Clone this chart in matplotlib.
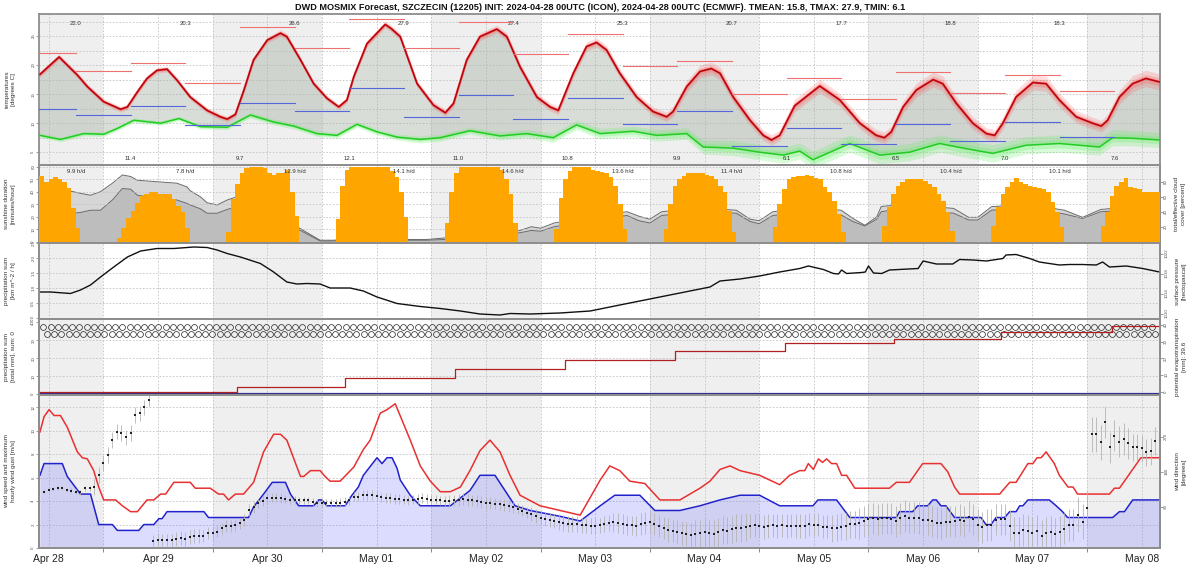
import numpy as np
import matplotlib
matplotlib.use('Agg')
import matplotlib.pyplot as plt

plt.rcParams['font.family'] = ['Liberation Sans', 'DejaVu Sans']

TITLE = ('DWD MOSMIX Forecast, SZCZECIN (12205) INIT: 2024-04-28 00UTC (ICON), '
         '2024-04-28 00UTC (ECMWF). TMEAN: 15.8, TMAX: 27.9, TMIN: 6.1')

# time axis = hours since 2024-04-28 00 UTC
day_labels = ['Apr 28', 'Apr 29', 'Apr 30', 'May 01', 'May 02', 'May 03',
              'May 04', 'May 05', 'May 06', 'May 07', 'May 08']

# ---- temperature panel
red_h = [10.1, 14.3, 18.3, 20.5, 24.1, 27.8, 29.3, 31.5, 33.6, 35.8,
         38.0, 40.2, 43.1, 46.8, 49.7, 51.2, 53.0, 54.8, 57.0, 60.0,
         62.9, 64.3, 67.3, 70.2, 73.1, 75.7, 77.5, 79.0, 81.9, 85.9,
         87.2, 89.2, 92.9, 96.5, 99.1, 100.9, 103.8, 106.7, 110.4, 112.6,
         115.5, 119.2, 122.1, 123.9, 127.2, 130.1, 132.3, 134.5, 137.4, 141.1,
         144.7, 147.7, 149.1, 152.1, 155.0, 157.5, 159.4, 162.3, 166.0, 168.9,
         170.7, 172.5, 175.8, 181.3, 185.7, 190.1, 193.7, 195.5, 197.0, 199.6,
         202.5, 206.2, 208.3, 211.3, 214.9, 217.9, 219.7, 221.5, 224.4, 228.1,
         231.0, 233.9, 237.6, 241.2, 243.1, 244.5, 247.1, 250.0, 252.9, 255.9]
red_t = [18.4, 21.4, 18.3, 16.3, 13.7, 12.4, 12.8, 15.4, 17.7, 19.1,
         19.3, 17.4, 14.5, 12.2, 11.1, 10.7, 11.5, 15.5, 20.9, 24.3,
         25.5, 24.9, 20.9, 16.8, 14.3, 12.8, 14.0, 18.0, 23.7, 27.0,
         26.3, 24.9, 16.8, 13.1, 11.8, 13.4, 20.9, 24.9, 26.2, 24.9,
         19.7, 14.5, 12.8, 12.2, 18.6, 23.2, 23.9, 22.6, 18.6, 14.5,
         12.0, 11.1, 12.0, 16.3, 18.9, 19.4, 18.6, 14.5, 10.5, 7.9,
         7.1, 7.9, 13.0, 16.4, 14.0, 10.0, 7.9, 7.5, 8.5, 12.8,
         15.7, 17.5, 16.8, 13.4, 10.0, 8.2, 7.9, 10.0, 14.5, 17.0,
         16.8, 14.0, 11.1, 10.0, 9.5, 10.5, 14.5, 16.8, 17.7, 17.1]
red_spread = [0.5, 0.5, 0.5, 0.5, 0.5, 0.5, 0.5, 0.5, 0.5, 0.5,
              0.5, 0.5, 0.5, 0.5, 0.5, 0.5, 0.5, 0.5, 0.5, 0.5,
              0.6, 0.6, 0.5, 0.5, 0.5, 0.5, 0.5, 0.5, 0.6, 0.6,
              0.6, 0.6, 0.6, 0.6, 0.6, 0.6, 0.6, 0.7, 0.7, 0.7,
              0.7, 0.7, 0.7, 0.7, 0.8, 0.8, 0.8, 0.8, 0.8, 0.8,
              0.8, 0.8, 0.9, 1.0, 1.1, 1.1, 1.1, 1.0, 0.9, 0.9,
              0.9, 0.9, 1.1, 1.2, 1.1, 1.0, 1.0, 1.0, 1.0, 1.1,
              1.2, 1.3, 1.3, 1.2, 1.1, 1.0, 1.0, 1.1, 1.2, 1.3,
              1.3, 1.2, 1.1, 1.0, 1.0, 1.1, 1.2, 1.4, 1.4, 1.4]

green_h = [10.1, 14.6, 19.7, 24.1, 27.1, 30.7, 36.6, 40.6, 45.3, 51.2,
           56.3, 61.4, 65.8, 70.9, 75.3, 79.7, 84.1, 88.5, 93.6, 98.0,
           104.5, 111.1, 116.9, 122.8, 127.9, 133.1, 140.4, 145.5, 152.1, 155.7,
           162.3, 168.1, 173.3, 176.9, 179.8, 187.9, 194.5, 201.0, 207.6, 213.5,
           219.3, 226.6, 233.9, 242.7, 245.6, 250.0, 255.9]
green_t = [7.9, 7.2, 8.2, 8.1, 9.1, 10.5, 10.0, 10.8, 9.4, 9.3,
           11.4, 10.2, 9.5, 8.2, 7.9, 9.8, 8.5, 7.6, 7.2, 7.5,
           8.7, 7.8, 8.2, 7.5, 9.7, 8.2, 8.6, 7.9, 8.2, 5.9,
           5.7, 5.0, 4.5, 5.2, 3.7, 6.5, 4.5, 5.0, 6.5, 5.6,
           4.8, 6.2, 6.5, 5.9, 7.5, 7.4, 7.1]
green_spread = [0.4, 0.4, 0.4, 0.4, 0.4, 0.4, 0.4, 0.4, 0.4, 0.4,
                0.5, 0.5, 0.5, 0.5, 0.5, 0.5, 0.5, 0.5, 0.6, 0.6,
                0.6, 0.7, 0.7, 0.8, 0.8, 0.9, 0.9, 1.0, 1.0, 1.2,
                1.3, 1.3, 1.4, 1.4, 1.5, 1.5, 1.5, 1.5, 1.5, 1.5,
                1.5, 1.5, 1.5, 1.4, 1.4, 1.3, 1.3]

# 12-hour max / min segments, windows start at 06 UTC and 18 UTC
seg_start = [6, 18, 30, 42, 54, 66, 78, 90, 102, 114,
             126, 138, 150, 162, 174, 186, 198, 210, 222, 234]
seg_max = [22.0, 18.9, 20.3, 17.0, 26.6, 22.9, 27.9, 22.9, 27.4, 21.9,
           25.3, 19.8, 20.7, 15.1, 17.7, 14.1, 18.8, 15.2, 18.3, 15.6]
seg_min = [12.4, 11.4, 12.9, 9.7, 13.5, 12.1, 16.0, 11.0, 14.9, 10.8,
           14.3, 9.9, 12.1, 6.1, 9.1, 6.5, 9.8, 7.0, 10.2, 7.6]
tmax_day = [22.0, 20.3, 26.6, 27.9, 27.4, 25.3, 20.7, 17.7, 18.8, 18.3]
tmin_day = [11.4, 9.7, 12.1, 11.0, 10.8, 9.9, 6.1, 6.5, 7.0, 7.6]

# ---- sunshine / cloud panel
sun_first_hour = [10, 27, 51, 75, 99, 123, 147, 171, 195, 219, 243]
sun_minutes = [
    [53, 48, 50, 52, 50, 48, 43, 27, 11],
    [3, 11, 19, 25, 31, 37, 38, 40, 40, 38, 38, 38, 34, 29, 24, 11],
    [8, 34, 46, 55, 59, 60, 60, 60, 59, 55, 54, 55, 55, 58, 40, 21],
    [18, 45, 58, 60, 60, 60, 60, 60, 60, 60, 60, 60, 57, 52, 40, 20],
    [15, 40, 55, 60, 60, 60, 60, 60, 60, 60, 60, 60, 58, 50, 38, 15],
    [10, 35, 50, 57, 60, 60, 60, 60, 58, 57, 56, 55, 52, 45, 30, 10],
    [10, 30, 45, 50, 53, 55, 55, 55, 55, 54, 53, 50, 45, 40, 25, 8],
    [12, 30, 42, 50, 52, 53, 53, 54, 53, 51, 50, 44, 40, 33, 22, 8],
    [13, 28, 38, 45, 48, 50, 50, 50, 50, 49, 46, 44, 38, 33, 24, 9],
    [13, 28, 38, 44, 48, 51, 48, 46, 45, 44, 43, 42, 40, 32, 24, 12],
    [13, 24, 37, 45, 48, 51, 44, 43, 42, 40, 40, 40, 40],
]
sun_day = ['9.9', '7.8', '12.9', '14.1', '14.6', '13.6', '11.4', '10.8', '10.4', '10.1']

cloud_h = [10, 17.2, 19.0, 21.2, 23.4, 26.0, 28.2, 30.0, 31.5, 33.6,
           35.8, 38.0, 40.2, 42.4, 43.1, 45.3, 46.8, 49.0, 51.2, 53.4,
           60, 67.1, 71.6, 74.6, 80, 91, 95, 99, 110, 115.5,
           118, 120, 123, 133, 139, 141.6, 144, 146.6, 155, 163,
           166, 168, 171, 180, 186, 188.6, 191.2, 193.8, 194.8, 200,
           210.7, 214, 216, 219, 227, 235, 239, 243, 256]
cloud_total = [60, 67, 64.5, 62, 66.7, 78, 89, 87, 82, 81,
               80, 79, 78, 73, 68, 60, 52, 49, 55.6, 60,
               40, 18, 2, 2, 5, 3, 3, 5, 10, 15,
               20, 18, 25, 35, 40, 34, 30, 40, 45, 42,
               30, 28, 40, 45, 42, 31, 22, 33, 47, 50,
               44.4, 32.5, 32.5, 46.7, 50, 42, 32.5, 43, 50]
cloud_eff = [35, 38, 39, 42, 42, 55.6, 71, 70, 62, 60,
             58, 57, 55.6, 51, 49, 44, 38, 38, 43, 46.7,
             30, 15.6, 1, 1, 3, 2, 2, 3, 8, 12,
             15, 14, 20, 30, 35, 28, 25, 35, 40, 38,
             27, 24, 35, 40, 35.6, 27, 21, 30, 40, 45,
             38, 29, 29, 42, 45, 37, 31, 40, 45]

# ---- pressure panel
pres_h = [10.1, 12.4, 16.8, 19.0, 21.2, 23.4, 26.3, 29.3, 32.2, 35.8,
          39.5, 43.9, 46.8, 49.0, 51.2, 54.1, 58.5, 61.4, 64.3, 66.5,
          68.7, 71.6, 73.8, 78.2, 81.1, 84.1, 88.5, 93.6, 98.0, 102.4,
          106.7, 111.1, 113.3, 117.7, 124.3, 130.9, 137.4, 144.0, 150.6, 157.2,
          159.4, 163.8, 168.1, 172.5, 176.9, 178.8, 182.1, 184.3, 185.4, 186.1,
          187.2, 190.5, 191.3, 192.0, 193.1, 194.9, 196.6, 202.9, 204.0, 206.9,
          210.5, 212.0, 214.9, 217.9, 221.5, 222.2, 224.4, 227.4, 229.5, 233.9,
          236.1, 239.0, 242.0, 243.4, 244.9, 248.6, 252.2, 255.9]
pres_hpa = [1014.3, 1014.3, 1014.0, 1014.7, 1015.7, 1017.3, 1019.3, 1021.3, 1022.5, 1023.0,
            1023.0, 1023.3, 1023.2, 1022.7, 1022.0, 1021.3, 1020.0, 1018.3, 1016.3, 1015.9,
            1016.0, 1015.9, 1015.1, 1015.1, 1014.5, 1013.3, 1012.0, 1011.4, 1011.0, 1010.5,
            1009.9, 1009.7, 1010.0, 1009.9, 1010.1, 1010.5, 1011.7, 1012.9, 1014.1, 1015.3,
            1016.5, 1016.9, 1017.5, 1018.3, 1019.0, 1019.5, 1018.8, 1018.0, 1017.9, 1018.7,
            1018.0, 1018.2, 1018.3, 1019.5, 1018.1, 1018.0, 1018.7, 1019.0, 1020.5, 1019.9,
            1019.9, 1020.8, 1020.7, 1020.5, 1021.0, 1021.7, 1021.8, 1021.0, 1020.3, 1019.7,
            1019.8, 1019.8, 1019.7, 1020.3, 1019.3, 1019.5, 1019.0, 1018.3]

# ---- precipitation / evapotranspiration panel
precip_h = [10, 256]
precip_sum = [0.0, 0.0]
et_h = [10, 53.4, 77.1, 101.3, 125.4, 149.5, 173.6, 197.7, 221.2, 245.5, 256]
et_cum = [0.0, 2.8, 8.2, 13.6, 19.0, 24.4, 29.2, 31.6, 35.7, 39.6, 39.6]

# ---- wind panel
gust_h = [10.1, 11.0, 12.1, 13.2, 14.6, 16.1, 18.3, 19.4, 20.5, 21.9,
          23.0, 24.1, 26.7, 28.2, 30.0, 31.5, 33.6, 35.1, 36.6, 37.7,
          39.5, 43.1, 44.2, 47.5, 49.3, 50.4, 51.5, 53.0, 54.8, 57.0,
          59.2, 61.4, 62.9, 64.3, 67.3, 68.0, 69.5, 71.6, 72.7, 73.8,
          76.0, 79.0, 81.1, 82.6, 84.8, 86.3, 88.1, 91.4, 93.6, 95.8,
          98.0, 100.2, 102.4, 104.5, 106.7, 108.9, 111.1, 113.3, 115.5, 119.9,
          124.3, 128.7, 133.1, 135.2, 137.4, 139.6, 142.9, 146.2, 150.6, 155.0,
          157.2, 159.4, 161.6, 163.8, 168.1, 172.5, 174.7, 176.9, 178.0, 178.8,
          179.9, 181.0, 181.9, 182.8, 183.9, 185.0, 186.1, 187.2, 189.0, 196.6,
          198.1, 201.0, 203.9, 207.9, 209.4, 210.9, 212.0, 220.8, 223.0, 224.4,
          227.0, 228.1, 229.0, 229.9, 231.0, 232.8, 233.9, 235.8, 236.9, 237.9,
          244.9, 246.0, 247.1, 251.8, 255.9]
gust_ms = [9.9, 11.2, 11.8, 11.3, 11.3, 10.3, 8.2, 7.7, 7.6, 6.6,
           5.2, 4.1, 4.1, 3.6, 3.1, 3.1, 4.1, 4.1, 4.6, 4.6,
           5.6, 5.6, 5.1, 5.1, 4.6, 4.6, 4.1, 4.6, 4.6, 5.6,
           8.2, 9.7, 9.7, 9.2, 6.1, 6.1, 6.6, 6.6, 6.1, 5.7,
           5.7, 6.9, 8.4, 9.2, 11.5, 11.8, 12.3, 9.2, 7.0, 5.7,
           4.8, 4.8, 5.2, 6.6, 8.3, 9.2, 8.2, 6.2, 4.5, 3.6,
           3.2, 2.8, 5.8, 7.0, 6.6, 5.7, 5.5, 4.1, 4.1, 5.1,
           5.7, 6.7, 7.0, 6.6, 6.2, 5.4, 6.2, 6.6, 6.6, 7.2,
           6.7, 7.6, 7.3, 7.6, 7.2, 7.2, 6.2, 6.2, 5.1, 5.1,
           5.6, 5.6, 7.2, 7.2, 6.5, 5.2, 4.6, 4.6, 5.6, 5.6,
           7.2, 7.2, 7.7, 7.7, 8.2, 7.2, 6.2, 5.2, 5.2, 4.6,
           4.6, 5.1, 5.1, 7.7, 7.7]

speed_h = [10.1, 11.0, 15.0, 16.1, 19.0, 21.2, 23.0, 26.0, 27.1, 31.8,
           32.9, 35.1, 36.2, 36.9, 38.0, 46.1, 47.1, 55.9, 57.0, 59.2,
           61.1, 64.0, 65.1, 66.9, 70.2, 71.3, 72.0, 73.1, 77.1, 78.6,
           80.0, 81.1, 84.1, 85.2, 86.3, 87.4, 88.5, 89.2, 91.4, 93.6,
           100.2, 104.5, 106.7, 110.0, 112.2, 114.4, 117.7, 124.3, 128.7, 133.1,
           136.3, 141.8, 145.1, 150.6, 155.0, 159.4, 163.8, 168.1, 172.5, 176.9,
           179.8, 180.9, 185.0, 187.9, 198.1, 198.8, 201.7, 202.8, 205.0, 206.1,
           206.9, 207.9, 209.0, 210.9, 216.7, 217.8, 218.9, 220.0, 221.9, 223.0,
           224.4, 225.2, 225.9, 227.0, 231.7, 233.2, 234.6, 235.7, 245.6, 247.1,
           248.2, 250.0, 255.9]
speed_ms = [6.2, 7.2, 7.2, 6.1, 4.6, 4.6, 2.0, 2.0, 1.5, 1.5,
            2.0, 2.0, 2.5, 2.5, 3.1, 3.1, 2.6, 2.6, 3.5, 4.6,
            5.6, 5.6, 4.6, 3.6, 3.6, 4.1, 4.1, 3.6, 3.6, 4.5,
            5.2, 6.2, 7.7, 7.2, 7.7, 7.7, 6.8, 5.8, 4.5, 3.6,
            3.6, 4.9, 6.2, 6.2, 4.9, 3.6, 3.2, 2.7, 2.3, 3.6,
            4.5, 4.5, 3.2, 3.2, 3.6, 4.1, 4.5, 4.5, 3.6, 3.6,
            3.6, 4.1, 4.1, 2.6, 2.6, 3.1, 3.1, 3.6, 3.6, 4.1,
            4.1, 3.6, 3.6, 2.6, 2.6, 2.0, 2.0, 2.6, 2.6, 3.1,
            3.1, 3.6, 3.6, 4.1, 4.1, 3.6, 3.1, 2.6, 2.6, 3.1,
            3.1, 4.1, 4.1]

# hourly wind direction from hour 10 on (values above 360 are drawn past the top)
dir_apr28 = [122, 129, 133, 135, 137, 137, 133, 131, 129, 127, 137, 137, 141, 171,
             202, 223, 262, 283, 279, 268, 280, 326, 330, 345, 364]
dir_apr29_30 = [2, 4, 4, 4, 4, 6, 10, 8, 13, 14, 14, 14, 22, 23, 26, 34, 41, 41, 42, 47,
                56, 81, 90, 99, 105, 112, 113, 113, 112, 109, 108, 108, 106, 106, 106,
                103, 99, 99, 99, 99, 100, 100, 103, 106, 116, 116, 120, 120, 120, 118,
                114, 112, 112]
dir_may01_04 = [110, 110, 108, 106, 108, 110, 112, 110, 108, 108, 106, 105,
                105, 106, 108, 110, 108, 106, 104, 102, 100, 100, 98, 96, 95, 92, 88, 85,
                80, 75, 70, 65, 60, 58, 55, 52, 50, 48, 45, 45,
                45, 42, 42, 40, 40, 42, 45, 48, 50, 48, 45, 42,
                42, 40, 45, 48, 50, 45, 40, 35, 30, 28, 25, 22,
                20, 18, 20, 22, 25, 22, 20, 25, 30, 28, 32, 35,
                35, 38, 40, 42, 40, 38, 40, 42, 40, 42, 40, 41, 40]
dir_may05_08 = [40, 40, 45, 44, 44, 39, 39, 34, 36, 39, 40, 45, 45, 47, 53, 58, 60, 58,
                60, 60, 59, 53, 60, 66, 62, 62, 61, 56, 56, 53, 49, 47, 51, 51, 53, 56,
                53, 64, 58, 43, 37, 43, 43, 56, 58, 58, 41, 23, 23, 30, 28, 23, 28, 15,
                23, 26, 20, 26, 33, 43, 43, 69, 51, 86, 276, 276, 255, 307, 243, 272,
                257, 264, 253, 243, 243, 240, 230, 232, 259, 262]
# spread of the direction (+/- degrees), one value per 6 hours
dir_spread_6h = [5, 6, 20, 20, 15, 18, 15, 15, 12, 10, 10, 12, 12, 12, 12, 15, 15, 15,
                 18, 20, 20, 25, 28, 30, 35, 35, 30, 30, 30, 35, 40, 40, 40, 40, 40, 40,
                 40, 40, 45, 40, 35, 35]

FRAME = '#8e8e8e'
GRID = '#c2c2c2'
SHADE = '#efefef'
TXT = '#333333'

fig = plt.figure(figsize=(12, 5.71), dpi=100)
H = 571.0


def panel(top, bottom):
    return fig.add_axes([39.5 / 1200, 1 - bottom / H, (1160 - 39.5) / 1200, (bottom - top) / H])


def frame(ax):
    for s in ax.spines.values():
        s.set_color(FRAME)
        s.set_linewidth(1.3)


def background(ax, ylim, grid_y):
    ax.set_xlim(10, 256)
    ax.set_ylim(*ylim)
    for d in range(0, 11, 2):
        ax.axvspan(d * 24, d * 24 + 24, color=SHADE, lw=0, zorder=0)
    for h in range(12, 256, 12):
        ax.axvline(h, color=GRID, lw=0.6, ls=(0, (2, 2)), zorder=0.5)
    for y in grid_y:
        ax.axhline(y, color=GRID, lw=0.6, ls=(0, (2, 2)), zorder=0.5)
    ax.set_xticks([])
    frame(ax)


def yticks(ax, ticks, labels):
    ax.set_yticks(ticks)
    ax.set_yticklabels(labels, rotation=90, va='center', fontsize=3.2, color='#555555')
    ax.tick_params(axis='y', length=2, width=0.5, pad=1, color='#777777')


def side_label(x_px, top, bottom, text):
    fig.text(x_px / 1200, 1 - (top + bottom) / 2 / H, text, rotation=90, ha='center',
             va='center', fontsize=4.6, color=TXT, multialignment='center', linespacing=1.3)


# ---------------- temperatures
ax_t = panel(14, 165)
background(ax_t, (2.8, 28.8), np.arange(5, 28.8, 2.5))
yticks(ax_t, [5, 10, 15, 20, 25], ['5', '10', '15', '20', '25'])

ax_t.fill(np.concatenate([red_h, green_h[::-1]]), np.concatenate([red_t, green_t[::-1]]),
          color='#aab4aa', alpha=0.45, lw=0, zorder=1)
gh, gt, gs = np.array(green_h), np.array(green_t), np.array(green_spread)
ax_t.fill_between(gh, gt - gs, gt + gs, color='#55ee55', alpha=0.22, lw=0, zorder=2)
ax_t.fill_between(gh, gt - gs * 0.5, gt + gs * 0.5, color='#55ee55', alpha=0.25, lw=0, zorder=2)
ax_t.plot(gh, gt, color='#22cc22', lw=1.1, zorder=3)

rh, rt, rs = np.array(red_h), np.array(red_t), np.array(red_spread)
ax_t.fill_between(rh, rt - rs, rt + rs, color='#ff5050', alpha=0.2, lw=0, zorder=4)
ax_t.fill_between(rh, rt - rs * 0.5, rt + rs * 0.5, color='#ff5050', alpha=0.25, lw=0, zorder=4)
ax_t.plot(rh, rt, color='#e8202a', lw=1.5, zorder=5)
ax_t.plot(rh, rt, color='#8b0000', lw=0.5, zorder=5)

for s, vmax, vmin in zip(seg_start, seg_max, seg_min):
    ax_t.plot([s, s + 12], [vmax, vmax], color='#f07070', lw=0.8, zorder=6)
    ax_t.plot([s, s + 12], [vmin, vmin], color='#5566dd', lw=0.8, zorder=6)
for k, (vmax, vmin) in enumerate(zip(tmax_day, tmin_day)):
    ax_t.text(18 + 24 * k, 27.1, f'{vmax:.1f}', ha='center', va='center', fontsize=4.3, color=TXT)
    ax_t.text(30 + 24 * k, 4.0, f'{vmin:.1f}', ha='center', va='center', fontsize=4.3, color=TXT)
side_label(10, 14, 165, 'temperatures\n[degrees C]')

# ---------------- sunshine / cloud cover
ax_c = panel(165, 243)
background(ax_c, (-1.7, 102.3), [])
ax_s = ax_c.twinx()
ax_s.set_zorder(ax_c.get_zorder() + 1)
ax_s.patch.set_visible(False)
ax_s.set_ylim(-0.8, 61.6)
ax_s.set_xlim(10, 256)
for y in range(10, 61, 10):
    ax_s.axhline(y, color=GRID, lw=0.6, ls=(0, (2, 2)), zorder=0.5)
ax_c.fill_between(cloud_h, 0, cloud_total, color='#d6d6d6', lw=0, zorder=1)
ax_c.fill_between(cloud_h, 0, cloud_eff, color='#bdbdbd', lw=0, zorder=1)
ax_c.plot(cloud_h, cloud_total, color='#6a6a6a', lw=0.7, zorder=2)
ax_c.plot(cloud_h, cloud_eff, color='#6a6a6a', lw=0.7, zorder=2)
for first, mins in zip(sun_first_hour, sun_minutes):
    ax_s.bar(np.arange(first, first + len(mins)), mins, width=1.0, align='edge',
             color='#ffa500', lw=0, zorder=3)
for k, txt in enumerate(sun_day):
    ax_s.text(18 + 24 * k, 56.5, f'{txt} h/d', ha='center', va='center', fontsize=4.3,
              color=TXT, zorder=4)
# left axis = sunshine, right axis = cloud cover
ax_c.yaxis.tick_right()
yticks(ax_c, [20, 40, 60, 80], ['20', '40', '60', '80'])
ax_s.yaxis.tick_left()
yticks(ax_s, [0, 10, 20, 30, 40, 50, 60], ['0', '10', '20', '30', '40', '50', '60'])
ax_s.set_xticks([])
frame(ax_s)
side_label(10, 165, 243, 'sunshine duration\n[minutes/hour]')
side_label(1180, 165, 243, 'total/effective cloud\ncover [percent]')

# ---------------- pressure
ax_p = panel(243, 319)
background(ax_p, (-0.02, 2.51), [0.5, 1.0, 1.5, 2.0])
yticks(ax_p, [0, 0.5, 1.0, 1.5, 2.0, 2.5], ['0.0', '0.5', '1.0', '1.5', '2.0', '2.5'])
ax_p2 = ax_p.twinx()
ax_p2.set_ylim(1008.9, 1024.1)
ax_p2.plot(pres_h, pres_hpa, color='#111111', lw=1.0)
yticks(ax_p2, [1010, 1014, 1018, 1022], ['1010', '1014', '1018', '1022'])
frame(ax_p2)
side_label(10, 243, 319, 'precipitation sum\n[km m^-2 / h]')
side_label(1181, 243, 319, 'surface pressure\n[hectopascal]')

# ---------------- precipitation sum / evapotranspiration
ax_r = panel(319, 395)
background(ax_r, (-0.4, 41.9), [10, 20, 30])
yticks(ax_r, [0, 10, 20, 30, 40], ['0', '10', '20', '30', '40'])
sym_top = np.arange(10.84, 255.5, 1.58)
sym_bot = sym_top[sym_top + 0.79 < 255.5] + 0.79
ax_r.plot(sym_top, np.full(len(sym_top), 37.7), 'o', ms=4.2, mfc='none', mec='#333333',
          mew=0.55, zorder=3)
ax_r.plot(sym_bot, np.full(len(sym_bot), 33.6), 'o', ms=4.2, mfc='none', mec='#333333',
          mew=0.55, zorder=3)
ax_r.plot(precip_h, precip_sum, color='#303090', lw=1.6, zorder=4)
ax_r2 = ax_r.twinx()
ax_r2.set_ylim(-2.0, 43.5)
ax_r2.plot(et_h, et_cum, color='#b02020', lw=0.9, drawstyle='steps-post')
yticks(ax_r2, [0, 10, 20, 30, 40], ['0', '10', '20', '30', '40'])
frame(ax_r2)
side_label(10, 319, 395, 'precipitation sum\n[total mm], sum: 0')
side_label(1181, 319, 395, 'potential evapotranspiration\n[mm]: 39.6')

# ---------------- wind
ax_w = panel(395, 548)
background(ax_w, (0, 13.05), [2, 4, 6, 8, 10, 12])
yticks(ax_w, [0, 2, 4, 6, 8, 10, 12], ['0', '2', '4', '6', '8', '10', '12'])
ax_w.fill_between(speed_h, 0, speed_ms, color='#6464ff', alpha=0.22, lw=0, zorder=1)
ax_w.plot(speed_h, speed_ms, color='#2222cc', lw=1.1, zorder=3)
ax_w.plot(gust_h, gust_ms, color='#e83030', lw=1.1, zorder=3)
ax_w.set_xticks([12 + 24 * k for k in range(len(day_labels))])
ax_w.set_xticklabels(day_labels, fontsize=7.5, color='#222222')
ax_w.set_xticks(range(24, 256, 24), minor=True)
ax_w.tick_params(axis='x', which='major', length=0, pad=4)
ax_w.tick_params(axis='x', which='minor', length=3, width=0.6, color='#777777')

wind_dir = np.array(dir_apr28 + dir_apr29_30 + dir_may01_04 + dir_may05_08, dtype=float)
dir_h = np.arange(10, 10 + len(wind_dir))
dir_sp = np.repeat(dir_spread_6h, 6)[:len(wind_dir)]
ax_w2 = ax_w.twinx()
ax_w2.set_ylim(-16.2, 377)
ax_w2.vlines(dir_h, wind_dir - dir_sp, wind_dir + dir_sp, color='#b4b4b4', lw=0.6)
ax_w2.plot(dir_h, wind_dir, 's', ms=1.7, color='#222222', mew=0)
yticks(ax_w2, [90, 180, 270], ['90', '180', '270'])
frame(ax_w2)
side_label(10, 395, 548, 'wind speed and maximum\nhourly wind gust [m/s]')
side_label(1181, 395, 548, 'wind direction\n[degrees]')

fig.text(0.5, 1 - 7.5 / H, TITLE, ha='center', va='center', fontsize=6.6,
         fontweight='bold', color='#111111')

fig.savefig('out.png', dpi=100)
